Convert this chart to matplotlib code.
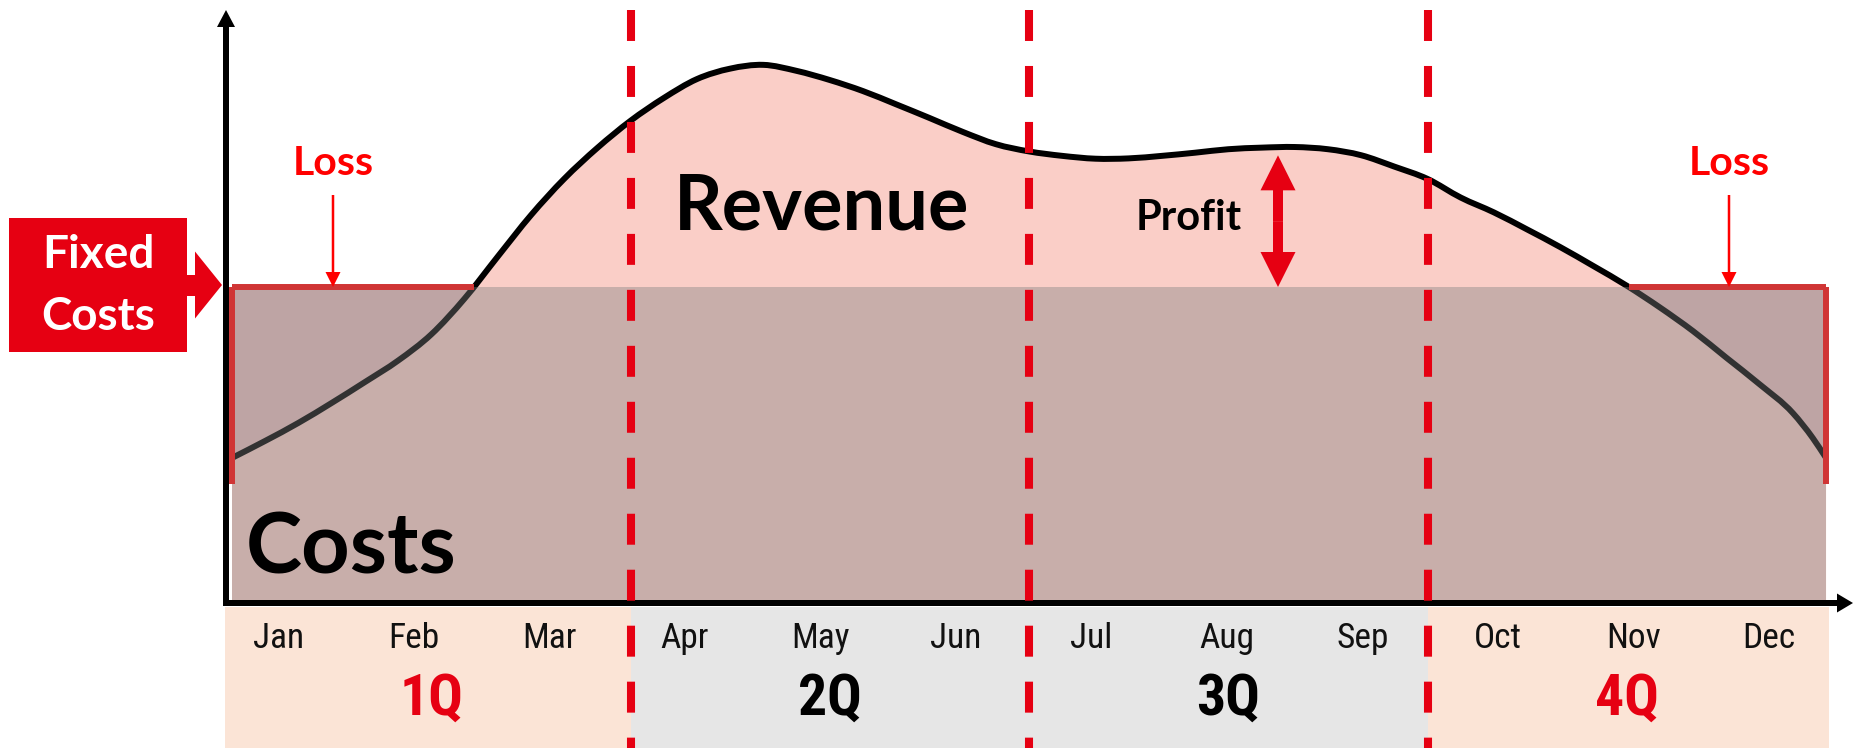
import matplotlib
matplotlib.use("Agg")
import numpy as np
import matplotlib.pyplot as plt
from matplotlib.patches import Rectangle, Polygon, PathPatch
from matplotlib.path import Path
from matplotlib import font_manager

# ---------------- data ----------------
months = ["Jan", "Feb", "Mar", "Apr", "May", "Jun",
          "Jul", "Aug", "Sep", "Oct", "Nov", "Dec"]
quarters = ["1Q", "2Q", "3Q", "4Q"]
quarter_colors = ["#E60012", "#000000", "#000000", "#E60012"]
band_colors = ["#FBE4D6", "#E6E6E6", "#E6E6E6", "#FBE4D6"]

fixed_costs = 100.0

rev_x = [0, 0.25, 0.5, 0.75, 1, 1.25, 1.5, 1.75, 2, 2.25, 2.5, 2.75,
         3, 3.25, 3.5, 3.75, 4, 4.25, 4.5, 4.75, 5, 5.25, 5.5, 5.75,
         6, 6.25, 6.5, 6.75, 7, 7.25, 7.5, 7.75, 8, 8.25, 8.5, 8.75,
         9, 9.25, 9.5, 9.75, 10, 10.25, 10.5, 10.75, 11, 11.25, 11.5, 11.75,
         11.9, 12]
revenue = [45.9, 51.3, 57.0, 63.3, 69.9, 76.7, 85.0, 96.3, 109.6, 122.7, 134.2, 144.0,
           152.6, 159.8, 165.8, 169.1, 170.3, 168.4, 165.5, 162.0, 157.8, 153.5, 149.1, 145.2,
           142.9, 141.5, 140.6, 140.7, 141.5, 142.5, 143.6, 144.1, 144.3, 143.6, 141.7, 138.1,
           134.2, 128.3, 123.6, 118.2, 112.6, 106.6, 100.4, 93.5, 86.0, 77.6, 69.2, 60.1,
           52.2, 45.9]

# ---------------- layout helpers (pixels -> data) ----------------
W, H = 1853, 748
X0, PXX = 232.0, 132.84      # px of month 0, px per month
Y0, PXY = 603.0, 3.16        # px of value 0, px per unit


def px2x(p):
    return (p - X0) / PXX


def px2y(p):
    return (Y0 - p) / PXY


def dx(p):
    return p / PXX


def dy(p):
    return p / PXY


def pick(*names):
    avail = {f.name for f in font_manager.fontManager.ttflist}
    for n in names:
        if n in avail:
            return n
    return "DejaVu Sans"


narrow = pick("Liberation Sans Narrow", "Roboto Condensed", "Liberation Sans")
boldf = pick("Lato", "Open Sans", "DejaVu Sans")

plt.rcParams["lines.scale_dashes"] = False

fig = plt.figure(figsize=(W / 100, H / 100), dpi=100)
fig.patch.set_facecolor("white")
ax = fig.add_axes([0, 0, 1, 1])
ax.set_xlim(px2x(0), px2x(W))
ax.set_ylim(px2y(H), px2y(0))
ax.axis("off")

x = np.array(rev_x, dtype=float)
r = np.array(revenue, dtype=float)
x_end = x[-1]


def smooth_curve(xs, ys):
    """Cubic Hermite (Bezier) path passing through every data point."""
    m = np.gradient(ys, xs)
    verts = [(xs[0], ys[0])]
    codes = [Path.MOVETO]
    for i in range(len(xs) - 1):
        h = xs[i + 1] - xs[i]
        verts += [(xs[i] + h / 3, ys[i] + m[i] * h / 3),
                  (xs[i + 1] - h / 3, ys[i + 1] - m[i + 1] * h / 3),
                  (xs[i + 1], ys[i + 1])]
        codes += [Path.CURVE4] * 3
    return verts, codes


cv, cc = smooth_curve(x, r)

# loss-zone base (fixed costs box), revenue fill, curve, cost overlay
ax.add_patch(Rectangle((0, 0), x_end, fixed_costs, facecolor="#E8BEBE",
                       edgecolor="none", zorder=1))
fill_path = Path(cv + [(x_end, 0), (x[0], 0), (x[0], r[0])],
                 cc + [Path.LINETO, Path.LINETO, Path.CLOSEPOLY])
ax.add_patch(PathPatch(fill_path, facecolor="#FACEC7", edgecolor="none", zorder=2))
ax.add_patch(PathPatch(Path(cv, cc), facecolor="none", edgecolor="black", lw=4.3,
                       capstyle="butt", joinstyle="round", zorder=3))
ax.add_patch(Rectangle((0, 0), x_end, fixed_costs, facecolor="#7F7F7F",
                       alpha=0.4, edgecolor="none", zorder=4))


# red outline of fixed costs where revenue is below it
def crossings(xs, ys, level):
    out = []
    for i in range(len(xs) - 1):
        a, b = ys[i] - level, ys[i + 1] - level
        if a * b < 0:
            out.append(xs[i] + (xs[i + 1] - xs[i]) * a / (a - b))
    return out


cx = crossings(x, r, fixed_costs)
edge_c = "#D03535"
ax.plot([0, cx[0]], [fixed_costs, fixed_costs], color=edge_c, lw=4.3,
        solid_capstyle="butt", zorder=5)
ax.plot([cx[-1], x_end], [fixed_costs, fixed_costs], color=edge_c, lw=4.3,
        solid_capstyle="butt", zorder=5)
ax.plot([0, 0], [fixed_costs, r[0] - dy(26)], color=edge_c, lw=4.3,
        solid_capstyle="butt", zorder=5)
ax.plot([x_end, x_end], [fixed_costs, r[-1] - dy(26)], color=edge_c, lw=4.3,
        solid_capstyle="butt", zorder=5)

# quarter bands under the axis
band_edges = [px2x(225), 3, 6, 9, px2x(1829)]
for i in range(4):
    ax.add_patch(Rectangle((band_edges[i], px2y(H)), band_edges[i + 1] - band_edges[i],
                           px2y(607) - px2y(H), facecolor=band_colors[i],
                           edgecolor="none", zorder=1))

# axes arrows
ax.arrow(px2x(226), px2y(606), 0, px2y(10) - px2y(606), width=dx(6),
         head_width=dx(18), head_length=dy(17), length_includes_head=True,
         color="black", lw=0, zorder=6)
ax.arrow(px2x(223), 0, px2x(W) - px2x(223), 0, width=dy(6),
         head_width=dy(19), head_length=dx(16), length_includes_head=True,
         color="black", lw=0, zorder=6)

# quarter dashed separators
for q in (3, 6, 9):
    ln, = ax.plot([q, q], [px2y(10), px2y(H)], color="#E60012", lw=5.8,
                  solid_capstyle="butt", zorder=7)
    ln.set_dashes([22.3, 18.0])
    ln.set_dash_capstyle("butt")

# month & quarter labels
month_pos = np.linspace(0.35, 11.57, 12)
for m, xp in zip(months, month_pos):
    ax.text(xp, px2y(648), m, family=[narrow, "DejaVu Sans"], fontsize=25.5,
            color="#111111", ha="center", va="baseline", zorder=8)
for i, (q, c) in enumerate(zip(quarters, quarter_colors)):
    ax.text(3 * i + 1.5, px2y(715), q, family=[narrow, "DejaVu Sans"],
            fontsize=41.5, fontweight="bold", color=c, ha="center",
            va="baseline", zorder=8)

# big labels
ax.text(px2x(674), px2y(230), "Revenue", family=boldf, fontweight="bold",
        fontsize=54.5, color="black", ha="left", va="baseline", zorder=8)
ax.text(px2x(246), px2y(573), "Costs", family=boldf, fontweight="bold",
        fontsize=61, color="black", ha="left", va="baseline", zorder=8)
ax.text(px2x(1136), px2y(230), "Profit", family=boldf, fontweight="bold",
        fontsize=30, color="black", ha="left", va="baseline", zorder=8)

# Loss labels with arrows
for lx in (px2x(333), px2x(1729)):
    ax.text(lx, px2y(175), "Loss", family=boldf, fontweight="bold",
            fontsize=29.5, color="#FF0000", ha="center", va="baseline", zorder=8)
    ax.arrow(lx, px2y(195), 0, fixed_costs - px2y(195), width=dx(2.5),
             head_width=dx(15), head_length=dy(15), length_includes_head=True,
             color="#FF0000", lw=0, zorder=8)

# Profit double arrow
px_ = px2x(1278)
top = np.interp(px_, x, r) - dy(8)
mid = (top + fixed_costs) / 2
for end in (top, fixed_costs):
    ax.arrow(px_, mid, 0, end - mid, width=dx(10), head_width=dx(35),
             head_length=dy(35), length_includes_head=True,
             color="#E60012", lw=0, zorder=8)

# Fixed Costs callout
fc_c = fixed_costs + dy(2)
ax.add_patch(Rectangle((px2x(9), fc_c - dy(67)), dx(178), dy(134),
                       facecolor="#E60012", edgecolor="none", zorder=8))
ax.add_patch(Rectangle((px2x(186), fc_c - dy(10.5)), dx(10), dy(21),
                       facecolor="#E60012", edgecolor="none", zorder=8))
ax.add_patch(Polygon([(px2x(195), fc_c + dy(33.5)), (px2x(222), fc_c),
                      (px2x(195), fc_c - dy(33.5))], closed=True,
                     facecolor="#E60012", edgecolor="none", zorder=8))
ax.text(px2x(98), px2y(268), "Fixed", family=boldf, fontweight="bold",
        fontsize=33, color="white", ha="center", va="baseline", zorder=9)
ax.text(px2x(98), px2y(330), "Costs", family=boldf, fontweight="bold",
        fontsize=33, color="white", ha="center", va="baseline", zorder=9)

fig.savefig("out.png", dpi=100, facecolor="white")
